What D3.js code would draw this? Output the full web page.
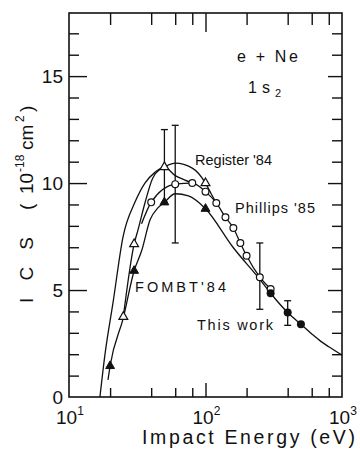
<!DOCTYPE html>
<html>
<head>
<meta charset="utf-8">
<script src="https://cdn.jsdelivr.net/npm/d3@7"></script>
<style>
  body { margin: 0; background: #fff; }
  svg { display: block; }
  text { font-family: "Liberation Sans", Arial, sans-serif; fill: #111; }
</style>
</head>
<body>
<div id="chart"></div>
<script>
// data (energy in eV, ICS in 1e-18 cm^2)
const leftCurveE = [16.85, 18.4, 21, 24.9, 30.4, 36, 42.6, 50, 60, 70, 80];
const leftCurveV = [0, 2.05, 4.4, 7.5, 9.1, 10.0, 10.5, 10.75, 10.35, 10.15, 10.0];

const regLineE = [25, 30, 32, 36, 41, 46.5, 50, 60, 80, 100, 110, 120];
const regLineV = [3.75, 7.15, 7.8, 9.07, 10.23, 10.65, 10.75, 10.93, 10.7, 10.0, 9.5, 9.07];
const regPtE = [25, 30, 50, 100];
const regPtV = [3.75, 7.15, 10.75, 10.0];

const philLineE = [34, 40, 60, 80, 100, 120, 140, 160, 180, 200, 250, 300];
const philLineV = [8.1, 9.1, 9.95, 10.0, 9.6, 9.07, 8.4, 7.9, 7.2, 6.6, 5.6, 5.05];
const philPtE = [40, 60, 80, 100, 120, 140, 160, 180, 200, 250, 300];
const philPtV = [9.1, 9.95, 10.0, 9.6, 9.07, 8.4, 7.9, 7.2, 6.6, 5.6, 5.05];

const fombtLineE = [19.3, 20, 25, 30, 34.2, 39.2, 45, 50, 60, 75, 100, 159, 250, 300, 400, 500, 600, 700, 800, 1000];
const fombtLineV = [0.8, 1.45, 3.7, 5.9, 6.87, 8.27, 8.85, 9.1, 9.5, 9.4, 8.8, 7.0, 5.5, 4.85, 3.95, 3.4, 2.95, 2.6, 2.35, 1.96];
const fombtPtE = [20, 30, 50, 100];
const fombtPtV = [1.45, 5.9, 9.1, 8.8];

const workPtE = [300, 400, 500];
const workPtV = [4.85, 3.95, 3.4];

const errE = [50, 60, 250, 400];
const errLo = [9.1, 7.2, 4.1, 3.35];
const errHi = [12.5, 12.7, 7.2, 4.5];

const yMajor = [5, 10, 15];
const yMinor = [1, 2, 3, 4, 6, 7, 8, 9, 11, 12, 13, 14, 16, 17];
const yLabels = ["0", "5", "10", "15"];
const xMajor = [10, 100, 1000];
const xMinor = [20, 40, 60, 80, 200, 400, 600, 800];
const xExp = ["1", "2", "3"];

const W = 360, H = 449;
const svg = d3.select("#chart").append("svg").attr("width", W).attr("height", H);

const x = d3.scaleLog().domain([10, 1000]).range([69, 342]);
const y = d3.scaleLinear().domain([0, 17.95]).range([397, 13]);

function axisG(axis, tx, ty) {
  const g = svg.append("g").attr("transform", `translate(${tx},${ty})`).call(axis);
  g.select(".domain").remove();
  g.selectAll("line").attr("stroke", "#111").attr("stroke-width", 1.4);
  g.selectAll("text").remove();
  return g;
}

// ticks pointing inward
axisG(d3.axisLeft(y).tickValues(yMinor).tickSize(-10), 69, 0);
axisG(d3.axisLeft(y).tickValues(yMajor).tickSize(-18), 69, 0);
axisG(d3.axisRight(y).tickValues(yMinor).tickSize(-10), 342, 0);
axisG(d3.axisRight(y).tickValues(yMajor).tickSize(-14), 342, 0);
axisG(d3.axisTop(x).tickValues(xMinor).tickSize(-12), 0, 13);
axisG(d3.axisTop(x).tickValues([100]).tickSize(-19), 0, 13);
axisG(d3.axisBottom(x).tickValues(xMinor).tickSize(-9), 0, 397);
axisG(d3.axisBottom(x).tickValues([100]).tickSize(-14), 0, 397);

svg.append("rect")
  .attr("x", 69).attr("y", 13).attr("width", 342 - 69).attr("height", 397 - 13)
  .attr("fill", "none").attr("stroke", "#111").attr("stroke-width", 1.6);

// y tick labels
svg.selectAll(".ylab").data([0, 5, 10, 15]).enter().append("text")
  .attr("x", 63).attr("y", d => y(d)).attr("dy", "0.36em")
  .attr("text-anchor", "end").attr("font-size", 19)
  .text((d, i) => yLabels[i]);

// x tick labels 10^n
xMajor.forEach((v, i) => {
  const t = svg.append("text").attr("x", x(v) - 13).attr("y", 424).attr("font-size", 19);
  t.append("tspan").text("10");
  t.append("tspan").attr("font-size", 12).attr("dy", -9).text(xExp[i]);
});

svg.append("text").attr("x", 142).attr("y", 444).attr("font-size", 19.5)
  .attr("textLength", 213).attr("lengthAdjust", "spacing")
  .text("Impact Energy (eV)");

// y title, rotated
const yt = svg.append("g").attr("transform", "translate(33,303) rotate(-90)");
yt.append("text").attr("x", 0).attr("y", 0).attr("font-size", 19)
  .attr("textLength", 66).attr("lengthAdjust", "spacing").text("I C S");
const yt2 = yt.append("text").attr("y", 0).attr("font-size", 19);
yt2.append("tspan").attr("x", 93).text("(");
yt2.append("tspan").attr("x", 109).text("10");
yt2.append("tspan").attr("x", 131).attr("dy", -9).attr("font-size", 12).text("-18");
yt2.append("tspan").attr("x", 153).attr("dy", 9).text("cm");
yt2.append("tspan").attr("x", 181).attr("dy", -9).attr("font-size", 12).text("2");
yt2.append("tspan").attr("x", 191).attr("dy", 9).text(")");

// curves
const line = d3.line().x(d => x(d[0])).y(d => y(d[1])).curve(d3.curveMonotoneX);
const zip = (a, b) => a.map((v, i) => [v, b[i]]);

[[leftCurveE, leftCurveV], [regLineE, regLineV], [philLineE, philLineV], [fombtLineE, fombtLineV]]
  .forEach(s => {
    svg.append("path").datum(zip(s[0], s[1])).attr("d", line)
      .attr("fill", "none").attr("stroke", "#111").attr("stroke-width", 1.3);
  });

// error bars
errE.forEach((e, i) => {
  const cx = x(e);
  svg.append("line").attr("x1", cx).attr("x2", cx).attr("y1", y(errLo[i])).attr("y2", y(errHi[i]))
    .attr("stroke", "#111").attr("stroke-width", 1.3);
  [errLo[i], errHi[i]].forEach(v => {
    svg.append("line").attr("x1", cx - 3.5).attr("x2", cx + 3.5).attr("y1", y(v)).attr("y2", y(v))
      .attr("stroke", "#111").attr("stroke-width", 1.3);
  });
});

// markers
const tri = d3.symbol().type(d3.symbolTriangle).size(34);
svg.selectAll(".reg").data(zip(regPtE, regPtV)).enter().append("path")
  .attr("d", tri).attr("transform", d => `translate(${x(d[0])},${y(d[1])})`)
  .attr("fill", "#fff").attr("stroke", "#111").attr("stroke-width", 1.2);
svg.selectAll(".fombt").data(zip(fombtPtE, fombtPtV)).enter().append("path")
  .attr("d", tri).attr("transform", d => `translate(${x(d[0])},${y(d[1])})`)
  .attr("fill", "#111").attr("stroke", "#111").attr("stroke-width", 1);
svg.selectAll(".phil").data(zip(philPtE, philPtV)).enter().append("circle")
  .attr("cx", d => x(d[0])).attr("cy", d => y(d[1])).attr("r", 3.4)
  .attr("fill", "#fff").attr("stroke", "#111").attr("stroke-width", 1.2);
svg.selectAll(".work").data(zip(workPtE, workPtV)).enter().append("circle")
  .attr("cx", d => x(d[0])).attr("cy", d => y(d[1])).attr("r", 4)
  .attr("fill", "#111");

// annotations
svg.append("text").attr("x", 237).attr("y", 62).attr("font-size", 16)
  .attr("textLength", 61).attr("lengthAdjust", "spacing").text("e + Ne");
const s1 = svg.append("text").attr("y", 93).attr("font-size", 16);
s1.append("tspan").attr("x", 248).text("1");
s1.append("tspan").attr("x", 262).text("s");
s1.append("tspan").attr("x", 275).attr("dy", 4).attr("font-size", 11).text("2");

svg.append("text").attr("x", 195).attr("y", 165).attr("font-size", 14.5)
  .attr("textLength", 77).attr("lengthAdjust", "spacing").text("Register '84");
svg.append("text").attr("x", 235).attr("y", 213).attr("font-size", 14.5)
  .attr("textLength", 80).attr("lengthAdjust", "spacing").text("Phillips '85");
svg.append("text").attr("x", 135).attr("y", 292).attr("font-size", 14.5)
  .attr("textLength", 91).attr("lengthAdjust", "spacing").text("FOMBT'84");
svg.append("text").attr("x", 197).attr("y", 330).attr("font-size", 14.5)
  .attr("textLength", 76).attr("lengthAdjust", "spacing").text("This work");
</script>
</body>
</html>
